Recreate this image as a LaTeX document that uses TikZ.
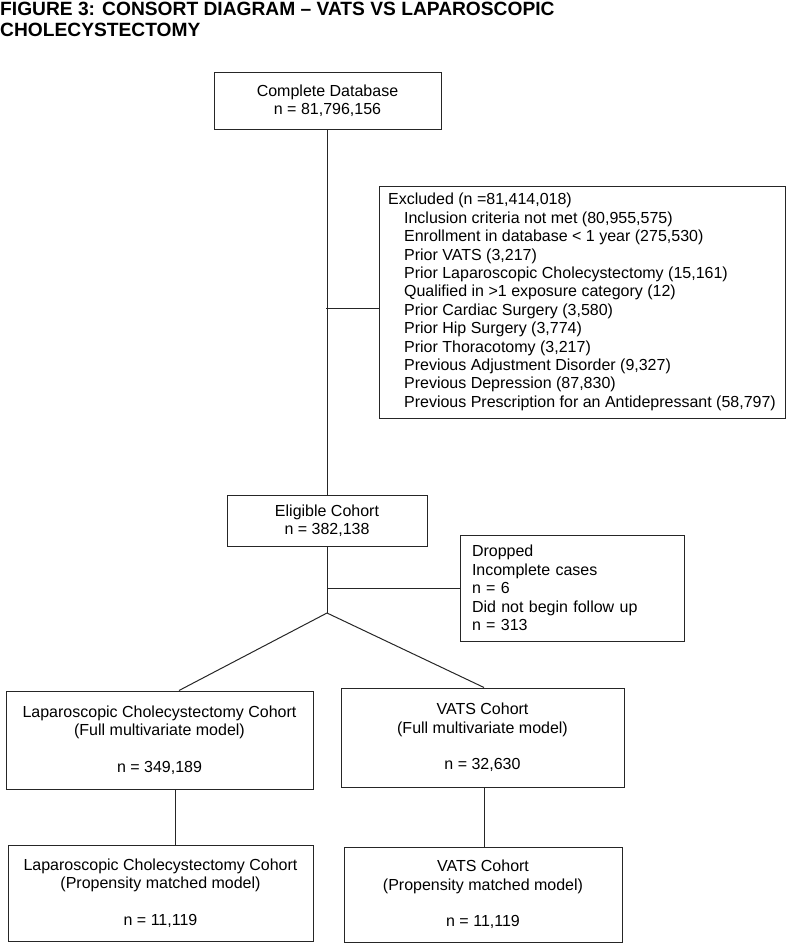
\documentclass[tikz,border=0pt]{standalone}
\usepackage{fontspec}
\setmainfont{Liberation Sans}
\usetikzlibrary{calc}

\begin{document}
\begin{tikzpicture}[x=1pt,y=-1pt,
    cbox/.style={draw=black!85, line width=1pt, align=center, inner sep=0pt,
        font=\fontsize{16}{18.4}\selectfont},
    lbox/.style={cbox, align=left},
    link/.style={draw=black!85, line width=1pt}]

    \useasboundingbox (0,0) rectangle (787,943);

    \node[anchor=north west, inner sep=0pt, align=left,
        font=\fontsize{19.2}{20.6}\selectfont\bfseries] (title) at (0,2)
        {FIGURE 3: CONSORT DIAGRAM -- VATS VS LAPAROSCOPIC\\CHOLECYSTECTOMY};

    \node[cbox, minimum width=227, minimum height=57] (db) at (327.5,100.5)
        {Complete Database\\n = 81,796,156};

    \node[lbox, minimum width=406, minimum height=232] (excl) at (582,302)
        {Excluded (n =81,414,018)\\
        \hspace*{16pt}Inclusion criteria not met (80,955,575)\\
        \hspace*{16pt}Enrollment in database < 1 year (275,530)\\
        \hspace*{16pt}Prior VATS (3,217)\\
        \hspace*{16pt}Prior Laparoscopic Cholecystectomy (15,161)\\
        \hspace*{16pt}Qualified in >1 exposure category (12)\\
        \hspace*{16pt}Prior Cardiac Surgery (3,580)\\
        \hspace*{16pt}Prior Hip Surgery (3,774)\\
        \hspace*{16pt}Prior Thoracotomy (3,217)\\
        \hspace*{16pt}Previous Adjustment Disorder (9,327)\\
        \hspace*{16pt}Previous Depression (87,830)\\
        \hspace*{16pt}Previous Prescription for an Antidepressant (58,797)};

    \node[cbox, minimum width=200, minimum height=51] (elig) at (327,520.5)
        {Eligible Cohort\\n = 382,138};

    \node[lbox, text width=200, inner xsep=12, minimum height=106] (drop) at (572,588)
        {Dropped\\Incomplete cases\\n = 6\\Did not begin follow up\\n = 313};

    \node[cbox, minimum width=307, minimum height=98] (lapfull) at (159.5,740)
        {Laparoscopic Cholecystectomy Cohort\\(Full multivariate model)\\[18.4pt]n = 349,189};
    \node[cbox, minimum width=283, minimum height=99] (vatsfull) at (482.5,737.5)
        {VATS Cohort\\(Full multivariate model)\\[18.4pt]n = 32,630};

    \node[cbox, minimum width=305, minimum height=96] (lapprop) at (160.5,893)
        {Laparoscopic Cholecystectomy Cohort\\(Propensity matched model)\\[18.4pt]n = 11,119};
    \node[cbox, minimum width=278, minimum height=95] (vatsprop) at (483,894.5)
        {VATS Cohort\\(Propensity matched model)\\[18.4pt]n = 11,119};

    % joints on the main line
    \coordinate (exclJoin) at (326,308);
    \coordinate (split) at (327,613);

    \draw[link] (db.south) -- (db.south |- elig.north);
    \draw[link] (exclJoin) -- (excl.west |- exclJoin);
    \draw[link] (elig.south) -- (split);
    \draw[link] (elig.south |- drop.west) -- (drop.west);
    \draw[link] (split) -- ([xshift=19.5pt]lapfull.north);
    \draw[link] (split) -- ([xshift=1.5pt]vatsfull.north);
    \draw[link] ([xshift=15.5pt]lapfull.south) -- ([xshift=15.5pt]lapfull.south |- lapprop.north);
    \draw[link] ([xshift=2pt]vatsfull.south) -- ([xshift=2pt]vatsfull.south |- vatsprop.north);

\end{tikzpicture}
\end{document}
